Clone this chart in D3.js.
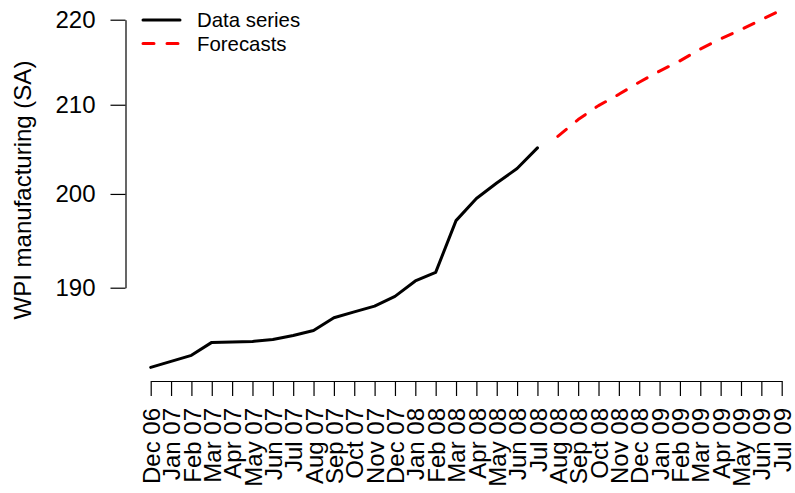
<!DOCTYPE html>
<html>
<head>
<meta charset="utf-8">
<script src="https://cdn.jsdelivr.net/npm/d3@7"></script>
<style>
  html, body { margin: 0; padding: 0; background: #ffffff; }
  svg { display: block; font-family: "Liberation Sans", Arial, Helvetica, sans-serif; }
</style>
</head>
<body>
<svg id="chart" width="795" height="493"></svg>
<script>
// Month labels for the whole horizon (observed + forecast)
const months = [
  "Dec 06", "Jan 07", "Feb 07", "Mar 07", "Apr 07", "May 07", "Jun 07", "Jul 07",
  "Aug 07", "Sep 07", "Oct 07", "Nov 07", "Dec 07", "Jan 08", "Feb 08", "Mar 08",
  "Apr 08", "May 08", "Jun 08", "Jul 08", "Aug 08", "Sep 08", "Oct 08", "Nov 08",
  "Dec 08", "Jan 09", "Feb 09", "Mar 09", "Apr 09", "May 09", "Jun 09", "Jul 09"
];

// Observed WPI manufacturing index (seasonally adjusted), Dec 06 - Jul 08
const dataMonths = months.slice(0, 20);
const dataValues = [
  181.9, 182.5, 183.1, 184.4, 184.45, 184.5, 184.7, 185.1,
  185.6, 186.9, 187.5, 188.1, 189.1, 190.7, 191.6, 197.1,
  199.5, 201.2, 202.8, 205.1
];

// Forecasts, Aug 08 - Jul 09
const forecastMonths = months.slice(20);
const forecastValues = [
  206.4, 208.3, 209.9, 211.2, 212.6, 213.9,
  215.1, 216.5, 217.7, 218.8, 220.0, 221.2
];

const yTicks = [190, 200, 210, 220];

const legendItems = [
  { label: "Data series", color: "#000000", dash: null },
  { label: "Forecasts",  color: "#ff0000", dash: "11,13" }
];

const svg = d3.select("#chart");

const x = d3.scalePoint().domain(months).range([150.7, 781.7]);
const y = d3.scaleLog().domain([190, 220]).range([287.7, 19.7]);

// Y axis
const yAxis = svg.append("g")
  .attr("transform", "translate(125.5,0)")
  .call(d3.axisLeft(y).tickValues(yTicks).tickFormat(d3.format("d"))
    .tickSize(15).tickSizeOuter(0).tickPadding(15));
yAxis.selectAll("path, line").attr("stroke", "#000").attr("stroke-width", 1.2);
yAxis.selectAll("text").attr("font-size", 24).attr("fill", "#000")
  .attr("font-family", "Liberation Sans, Arial, sans-serif");

// X axis with vertical month labels
const xAxis = svg.append("g")
  .attr("transform", "translate(0,381)")
  .call(d3.axisBottom(x).tickSize(15).tickSizeOuter(0));
xAxis.selectAll("path, line").attr("stroke", "#000").attr("stroke-width", 1.2);
xAxis.selectAll("text")
  .attr("font-size", 24).attr("fill", "#000")
  .attr("font-family", "Liberation Sans, Arial, sans-serif")
  .attr("text-anchor", "end")
  .attr("transform", "rotate(-90)")
  .attr("x", -27).attr("y", 0).attr("dy", "0.36em");

// Y axis title
svg.append("text")
  .attr("transform", "translate(31,190) rotate(-90)")
  .attr("text-anchor", "middle")
  .attr("font-size", 24)
  .attr("fill", "#000")
  .text("WPI manufacturing (SA)");

const line = d3.line().x(d => x(d.m)).y(d => y(d.v));

// Observed series
svg.append("path")
  .datum(dataMonths.map((m, i) => ({ m, v: dataValues[i] })))
  .attr("d", line)
  .attr("fill", "none")
  .attr("stroke", "#000")
  .attr("stroke-width", 3)
  .attr("stroke-linejoin", "round")
  .attr("stroke-linecap", "round");

// Forecast series
svg.append("path")
  .datum(forecastMonths.map((m, i) => ({ m, v: forecastValues[i] })))
  .attr("d", line)
  .attr("fill", "none")
  .attr("stroke", "#ff0000")
  .attr("stroke-width", 3)
  .attr("stroke-dasharray", "11,13")
  .attr("stroke-linejoin", "round")
  .attr("stroke-linecap", "round");

// Legend
const legend = svg.append("g").attr("transform", "translate(143,20)");
legendItems.forEach((item, i) => {
  const g = legend.append("g").attr("transform", `translate(0,${i * 23.5})`);
  g.append("line")
    .attr("x1", 0).attr("x2", 37).attr("y1", 0).attr("y2", 0)
    .attr("stroke", item.color)
    .attr("stroke-width", 3)
    .attr("stroke-linecap", "round")
    .attr("stroke-dasharray", item.dash);
  g.append("text")
    .attr("x", 54).attr("y", 0).attr("dy", "0.36em")
    .attr("font-size", 20.4)
    .attr("fill", "#000")
    .text(item.label);
});
</script>
</body>
</html>
